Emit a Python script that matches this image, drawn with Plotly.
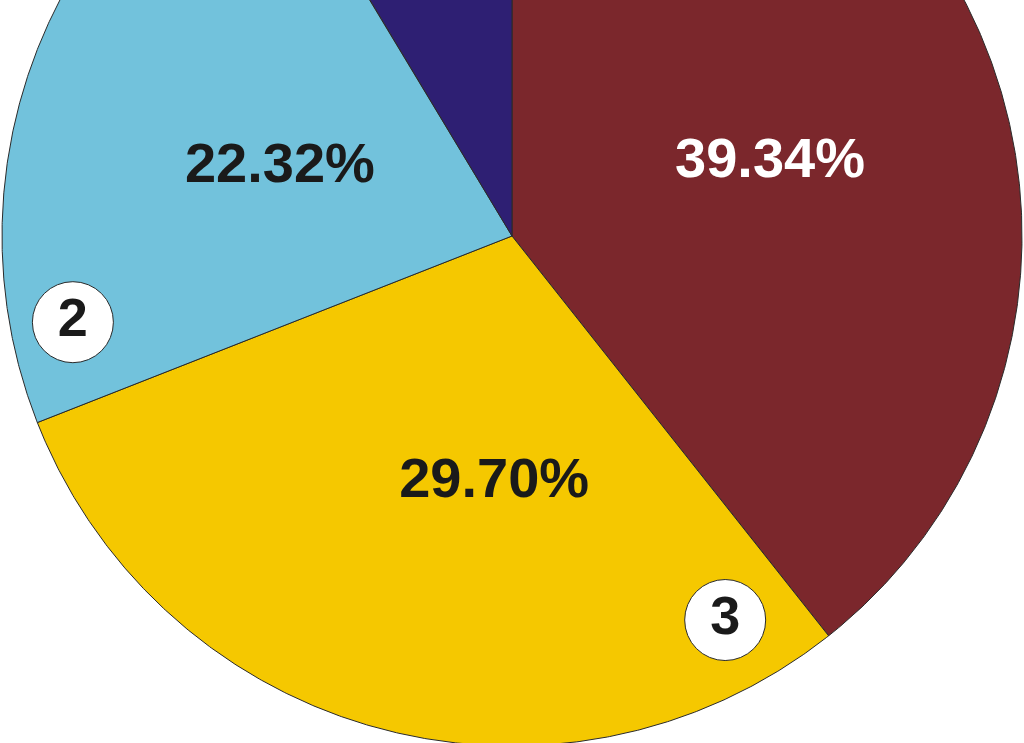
import numpy as np
import plotly.graph_objects as go

# ---- data ----
categories = ["1", "3", "2", "4"]
shares = [39.34, 29.70, 22.32, 8.64]          # percent, clockwise from 12 o'clock
slice_colors = ["#7B272C", "#F5C800", "#72C2DC", "#2E1F73"]
label_texts = ["39.34%", "29.70%", "22.32%", ""]
label_colors = ["#FFFFFF", "#1A1A1A", "#1A1A1A", "#FFFFFF"]
callout_texts = ["2", "3"]

# ---- layout constants (positions in pie-radius units, centre at 0,0) ----
label_pos = [(0.506, 0.143), (-0.035, -0.484), (-0.455, 0.134), None]
callout_pos = [(-0.861, -0.169), (0.418, -0.753)]

W, H = 1024, 743
R_PX = 510
CX, CY = 512, 236

fig = go.Figure()

total = sum(shares)
start = 0.0
for share, col in zip(shares, slice_colors):
    a0 = start / total * 2 * np.pi
    a1 = (start + share) / total * 2 * np.pi
    t = np.linspace(a0, a1, 400)
    xs = np.concatenate([[0.0], np.sin(t), [0.0]])
    ys = np.concatenate([[0.0], np.cos(t), [0.0]])
    fig.add_trace(go.Scatter(x=xs, y=ys, fill="toself", fillcolor=col, mode="lines",
                             line=dict(color="#2A2A2A", width=1), hoverinfo="skip",
                             showlegend=False))
    start += share

for txt, pos, tc in zip(label_texts, label_pos, label_colors):
    if pos is None or not txt:
        continue
    fig.add_trace(go.Scatter(x=[pos[0]], y=[pos[1]], mode="text", text=[txt],
                             textposition="middle center",
                             textfont=dict(family="Liberation Sans, Arial, sans-serif",
                                           size=56, color=tc, weight="bold"),
                             hoverinfo="skip", showlegend=False))

for txt, pos in zip(callout_texts, callout_pos):
    fig.add_trace(go.Scatter(x=[pos[0]], y=[pos[1]], mode="markers+text", text=[txt],
                             textposition="middle center",
                             marker=dict(size=81, color="#FFFFFF",
                                         line=dict(color="#2A2A2A", width=1)),
                             textfont=dict(family="Liberation Sans, Arial, sans-serif",
                                           size=54, color="#1A1A1A", weight="bold"),
                             hoverinfo="skip", showlegend=False))

fig.update_layout(
    width=W, height=H,
    margin=dict(l=0, r=0, t=0, b=0),
    paper_bgcolor="white", plot_bgcolor="white",
    xaxis=dict(range=[-CX / R_PX, (W - CX) / R_PX], visible=False, fixedrange=True),
    yaxis=dict(range=[(CY - H) / R_PX, CY / R_PX], visible=False, fixedrange=True),
)

fig.write_html("out.html", config={"displayModeBar": False},
               post_script="document.body.style.margin='0';document.body.style.overflow='hidden';")
